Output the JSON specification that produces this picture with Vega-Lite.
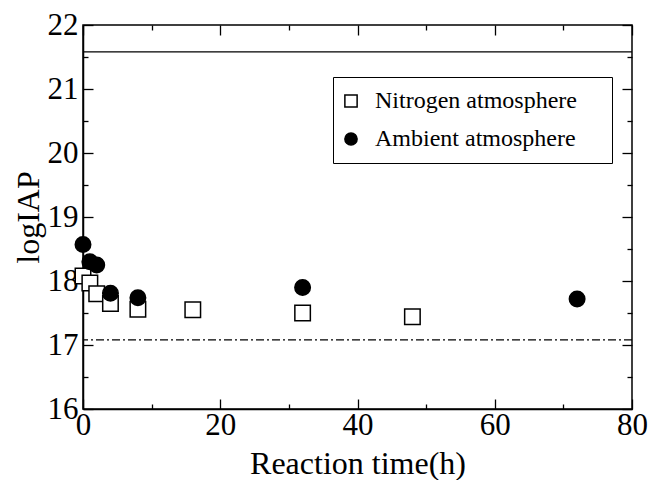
{
  "$schema": "https://vega.github.io/schema/vega-lite/v6.json",
  "autosize": "none",
  "width": 549,
  "height": 384,
  "padding": {"left": 83, "top": 25, "right": 18, "bottom": 71},
  "background": "white",
  "config": {
    "view": {"stroke": "black", "strokeWidth": 1.5},
    "font": "Liberation Serif",
    "axis": {
      "labelFont": "Liberation Serif",
      "titleFont": "Liberation Serif",
      "labelColor": "black",
      "titleColor": "black",
      "domainColor": "black",
      "tickColor": "black",
      "labelFontSize": 31,
      "titleFontSize": 32,
      "titleFontWeight": "normal",
      "grid": false,
      "labelFlush": false,
      "labelOverlap": false,
      "labelBound": false
    },
    "legend": {
      "labelFont": "Liberation Serif",
      "labelColor": "black",
      "titleFont": "Liberation Serif"
    }
  },
  "datasets": {
    "pts": [
      {"series": "Nitrogen atmosphere", "time": 0, "logIAP": 18.08},
      {"series": "Nitrogen atmosphere", "time": 1, "logIAP": 17.97},
      {"series": "Nitrogen atmosphere", "time": 2, "logIAP": 17.8},
      {"series": "Nitrogen atmosphere", "time": 4, "logIAP": 17.65},
      {"series": "Nitrogen atmosphere", "time": 8, "logIAP": 17.56},
      {"series": "Nitrogen atmosphere", "time": 16, "logIAP": 17.55},
      {"series": "Nitrogen atmosphere", "time": 32, "logIAP": 17.5},
      {"series": "Nitrogen atmosphere", "time": 48, "logIAP": 17.44},
      {"series": "Ambient atmosphere", "time": 0, "logIAP": 18.57},
      {"series": "Ambient atmosphere", "time": 1, "logIAP": 18.3},
      {"series": "Ambient atmosphere", "time": 2, "logIAP": 18.25},
      {"series": "Ambient atmosphere", "time": 4, "logIAP": 17.81},
      {"series": "Ambient atmosphere", "time": 8, "logIAP": 17.74},
      {"series": "Ambient atmosphere", "time": 32, "logIAP": 17.9},
      {"series": "Ambient atmosphere", "time": 72, "logIAP": 17.72}
    ],
    "lines": [
      {"kind": "solid", "level": 21.58},
      {"kind": "dashdot", "level": 17.08}
    ]
  },
  "layer": [
    {
      "data": {"name": "lines"},
      "mark": {"type": "rule", "color": "black", "strokeWidth": 1.3},
      "encoding": {
        "y": {"field": "level", "type": "quantitative", "axis": null},
        "strokeDash": {
          "field": "kind",
          "type": "nominal",
          "scale": {"domain": ["solid", "dashdot"], "range": [[1, 0], [8, 3, 2, 3]]},
          "legend": null
        }
      }
    },
    {
      "data": {"name": "pts"},
      "mark": {"type": "point", "size": 240, "stroke": "black", "strokeWidth": 1.5, "opacity": 1},
      "encoding": {
        "x": {
          "field": "time", "type": "quantitative",
          "scale": {"domain": [0, 80], "nice": false, "zero": false},
          "axis": {
            "orient": "bottom",
            "title": "Reaction time(h)",
            "values": [0, 10, 20, 30, 40, 50, 60, 70, 80],
            "labelExpr": "datum.value % 20 === 0 ? format(datum.value, 'd') : ''",
            "tickSize": {"condition": {"test": "datum.value % 20 === 0", "value": -10}, "value": -5},
            "domainWidth": 1.5,
            "tickWidth": 1.3,
            "labelPadding": 11,
            "titlePadding": 3
          }
        },
        "y": {
          "field": "logIAP", "type": "quantitative",
          "scale": {"domain": [16, 22], "nice": false, "zero": false},
          "axis": {
            "orient": "left",
            "title": "logIAP",
            "values": [16, 16.5, 17, 17.5, 18, 18.5, 19, 19.5, 20, 20.5, 21, 21.5, 22],
            "labelExpr": "datum.value % 1 === 0 ? format(datum.value, 'd') : ''",
            "tickSize": {"condition": {"test": "datum.value % 1 === 0", "value": -10}, "value": -5},
            "domainWidth": 1.5,
            "tickWidth": 1.3,
            "labelPadding": 15,
            "titlePadding": 2
          }
        },
        "shape": {
          "field": "series", "type": "nominal",
          "scale": {"domain": ["Nitrogen atmosphere", "Ambient atmosphere"], "range": ["square", "circle"]},
          "legend": {
            "title": "\u00a0",
            "titleOrient": "right",
            "titlePadding": 23,
            "titleFontSize": 24,
            "orient": "none",
            "legendX": 250,
            "legendY": 52,
            "strokeColor": "black",
            "padding": 12,
            "symbolSize": 150,
            "symbolOffset": -6,
            "labelFontSize": 24,
            "labelOffset": 12,
            "labelLimit": 400,
            "rowPadding": 14,
            "encode": {
              "symbols": {
                "update": {
                  "stroke": {"value": "black"},
                  "strokeWidth": {"value": 1.3},
                  "fill": {"signal": "datum.value === 'Nitrogen atmosphere' ? 'white' : 'black'"},
                  "opacity": {"value": 1}
                }
              }
            }
          }
        },
        "fill": {
          "field": "series", "type": "nominal",
          "scale": {"domain": ["Nitrogen atmosphere", "Ambient atmosphere"], "range": ["white", "black"]},
          "legend": null
        }
      }
    },
    {
      "data": {"name": "pts"},
      "mark": {"type": "point", "opacity": 0},
      "encoding": {
        "x": {
          "field": "time", "type": "quantitative",
          "axis": {
            "orient": "top",
            "title": null,
            "values": [0, 10, 20, 30, 40, 50, 60, 70, 80],
            "labels": false,
            "domain": false,
            "tickSize": {"condition": {"test": "datum.value % 20 === 0", "value": -10}, "value": -5},
            "tickWidth": 1.3
          }
        },
        "y": {
          "field": "logIAP", "type": "quantitative",
          "axis": {
            "orient": "right",
            "title": null,
            "values": [16, 16.5, 17, 17.5, 18, 18.5, 19, 19.5, 20, 20.5, 21, 21.5, 22],
            "labels": false,
            "domain": false,
            "tickSize": {"condition": {"test": "datum.value % 1 === 0", "value": -10}, "value": -5},
            "tickWidth": 1.3
          }
        }
      }
    }
  ],
  "resolve": {"axis": {"x": "independent", "y": "independent"}}
}
